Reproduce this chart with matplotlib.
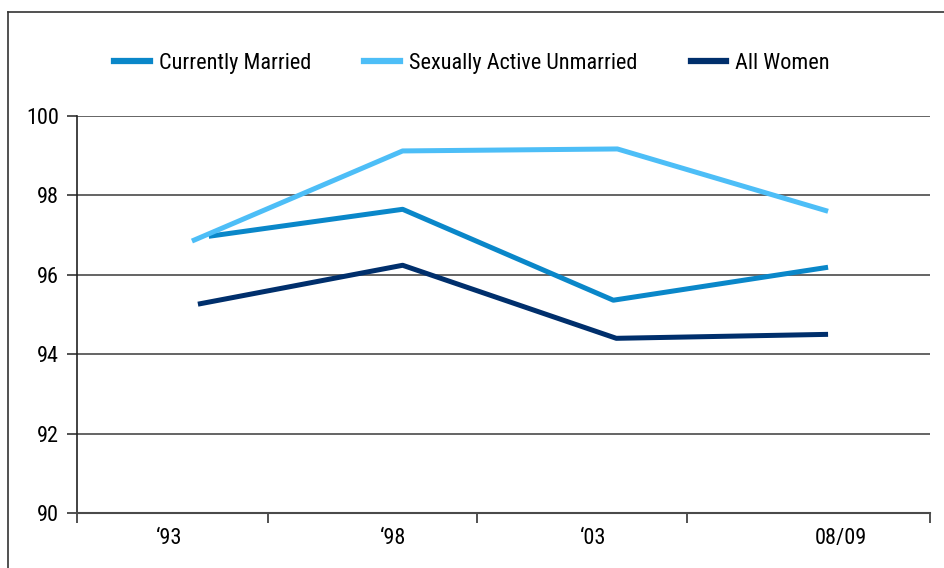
import matplotlib.pyplot as plt
from matplotlib.lines import Line2D

plt.rcParams['font.family'] = ['Liberation Sans Narrow', 'Roboto Condensed', 'Liberation Sans', 'DejaVu Sans']

# category labels and where they sit on the x axis
labels = ["\u201893", "\u201898", "\u201803", "08/09"]
label_pos = [0.43, 1.48, 2.42, 3.58]
tick_pos = [0.0, 0.895, 1.878, 2.862, 4.0]

# series (x positions, values in %)
married_x = [0.618, 1.527, 2.515, 3.522]
married_y = [96.97, 97.65, 95.36, 96.19]
unmarried_x = [0.539, 1.527, 2.534, 3.522]
unmarried_y = [96.85, 99.12, 99.17, 97.60]
allwomen_x = [0.567, 1.527, 2.529, 3.522]
allwomen_y = [95.26, 96.24, 94.40, 94.50]

c_married = '#0A87C9'
c_unmarried = '#4DBEF7'
c_all = '#002F6C'

fig = plt.figure(figsize=(9.44, 5.68), dpi=100)
ax = fig.add_axes([77 / 944, 55 / 568, 853 / 944, 397 / 568])

lw = 3.6
ax.plot(married_x, married_y, color=c_married, lw=lw, solid_capstyle='butt', label='Currently Married', zorder=3)
ax.plot(unmarried_x, unmarried_y, color=c_unmarried, lw=lw, solid_capstyle='butt', label='Sexually Active Unmarried', zorder=3)
ax.plot(allwomen_x, allwomen_y, color=c_all, lw=lw, solid_capstyle='butt', label='All Women', zorder=3)

ax.set_xlim(0, 4)
ax.set_ylim(90, 100)
ax.set_yticks([90, 92, 94, 96, 98, 100])
for v in [92, 94, 96, 98, 100]:
    ax.axhline(v, color='#4a4a4a', lw=1.2, zorder=1)

ax.set_xticks(tick_pos)
ax.set_xticklabels([])
ax.set_xticks(label_pos, minor=True)
ax.set_xticklabels(labels, minor=True)
ax.tick_params(axis='x', which='minor', length=0, pad=11, labelsize=16)
ax.tick_params(axis='x', which='major', length=7, width=1.2, color='#333333', direction='out')
ax.tick_params(axis='y', length=7, width=1.2, color='#333333', pad=6, labelsize=16)

for s in ['top', 'right']:
    ax.spines[s].set_visible(False)
ax.spines['left'].set_color('#222222')
ax.spines['bottom'].set_color('#4a4a4a')
ax.spines['left'].set_linewidth(1.2)
ax.spines['bottom'].set_linewidth(1.5)

handles = [Line2D([], [], color=c, lw=4.5) for c in (c_married, c_unmarried, c_all)]
fig.legend(handles, ['Currently Married', 'Sexually Active Unmarried', 'All Women'],
           loc='center', bbox_to_anchor=(0.5, 0.889), ncol=3, frameon=False,
           fontsize=16, handlelength=1.6, handletextpad=0.4, columnspacing=2.4)

# outer frame (left and top edges show, the rest is cut off)
fig.add_artist(Line2D([8 / 944, 8 / 944], [0, 556 / 568], color='#333333', lw=1.2))
fig.add_artist(Line2D([8 / 944, 1], [556 / 568, 556 / 568], color='#333333', lw=1.2))

fig.savefig('out.png', dpi=100)
